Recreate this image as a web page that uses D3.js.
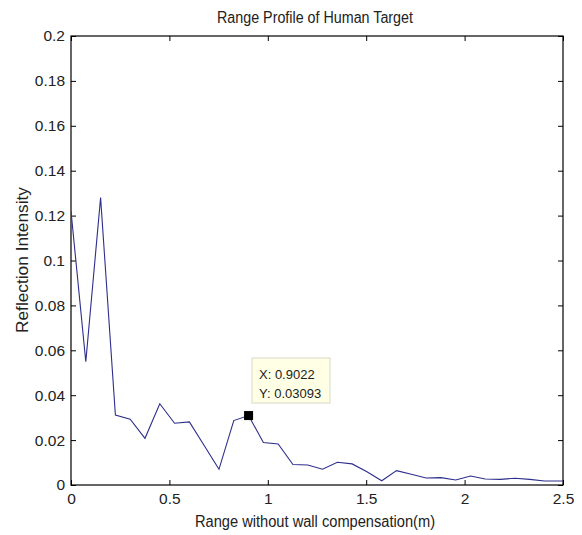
<!DOCTYPE html>
<html><head><meta charset="utf-8">
<script src="https://cdn.jsdelivr.net/npm/d3@7"></script>
<style>body{margin:0;background:#fff}svg{display:block}</style>
</head><body>
<script>
// ---- data ----
const xStep = 0.07519;
const intensity = [0.122, 0.0549, 0.128, 0.0312, 0.0293, 0.0208, 0.0362, 0.0275, 0.0281, 0.0176,
  0.0070, 0.0287, 0.03093, 0.0189, 0.0183, 0.0091, 0.0089, 0.0070, 0.0101, 0.0094,
  0.0059, 0.0019, 0.0064, 0.0048, 0.0031, 0.0033, 0.0022, 0.0040, 0.0027, 0.0025,
  0.0030, 0.0025, 0.0018, 0.0018, 0.0017];
const xTicks = [0, 0.5, 1, 1.5, 2, 2.5];
const xTickLabels = ["0", "0.5", "1", "1.5", "2", "2.5"];
const yTicks = [0, 0.02, 0.04, 0.06, 0.08, 0.1, 0.12, 0.14, 0.16, 0.18, 0.2];
const yTickLabels = ["0", "0.02", "0.04", "0.06", "0.08", "0.1", "0.12", "0.14", "0.16", "0.18", "0.2"];
const tipIndex = 12;
const tipLines = ["X: 0.9022", "Y: 0.03093"];
const titleText = "Range Profile of Human Target";
const xLabelText = "Range without wall compensation(m)";
const yLabelText = "Reflection Intensity";

const points = intensity.map((v, i) => ({x: i * xStep, y: v}));

const W = 582, H = 535;
const L = 71, R = 563, T = 36, B = 485;
const font = "'Liberation Sans',Arial,sans-serif";

const svg = d3.select("body").append("svg").attr("width", W).attr("height", H);
const x = d3.scaleLinear().domain([0, 2.5]).range([L, R]);
const y = d3.scaleLinear().domain([0, 0.2]).range([B, T]);

svg.append("defs").append("clipPath").attr("id", "clip")
  .append("rect").attr("x", L).attr("y", T).attr("width", R - L).attr("height", B - T);

// axes with inward ticks
const tf = (arr, labels) => (d => labels[arr.indexOf(d)]);
const gx = svg.append("g").attr("transform", `translate(0,${B})`)
  .call(d3.axisBottom(x).tickValues(xTicks).tickFormat(tf(xTicks, xTickLabels)).tickSize(-5).tickSizeOuter(0).tickPadding(8));
const gxT = svg.append("g").attr("transform", `translate(0,${T})`)
  .call(d3.axisTop(x).tickValues(xTicks).tickFormat("").tickSize(-5).tickSizeOuter(0));
const gy = svg.append("g").attr("transform", `translate(${L},0)`)
  .call(d3.axisLeft(y).tickValues(yTicks).tickFormat(tf(yTicks, yTickLabels)).tickSize(-5).tickSizeOuter(0).tickPadding(6));
const gyR = svg.append("g").attr("transform", `translate(${R},0)`)
  .call(d3.axisRight(y).tickValues(yTicks).tickFormat("").tickSize(-5).tickSizeOuter(0));
[gx, gxT, gy, gyR].forEach(g => {
  g.select(".domain").remove();
  g.selectAll("line").attr("stroke", "#000");
  g.selectAll("text").attr("font-family", font).attr("font-size", 15.5).attr("fill", "#222");
});
gx.selectAll("text").attr("dy", "0.71em");

// box
svg.append("rect").attr("x", L).attr("y", T).attr("width", R - L).attr("height", B - T)
  .attr("fill", "none").attr("stroke", "#000").attr("stroke-width", 1.2);

// line
svg.append("path").datum(points).attr("clip-path", "url(#clip)")
  .attr("d", d3.line().x(d => x(d.x)).y(d => y(d.y)))
  .attr("fill", "none").attr("stroke", "#2e2e8c").attr("stroke-width", 1.1);

// data tip
const tp = points[tipIndex];
svg.append("rect").attr("x", x(tp.x) - 4.5).attr("y", y(tp.y) - 4.5).attr("width", 9).attr("height", 9).attr("fill", "#000");
svg.append("rect").attr("x", 252).attr("y", 358).attr("width", 78).attr("height", 45)
  .attr("fill", "#ffffe6").attr("stroke", "#d8d8c8").attr("stroke-width", 1);
svg.selectAll(".tip").data(tipLines).enter().append("text")
  .attr("x", 259).attr("y", (d, i) => 379 + i * 18.5)
  .attr("font-family", font).attr("font-size", 13).attr("fill", "#222")
  .text(d => d);

// title and labels
svg.append("text").attr("x", 315).attr("y", 23).attr("text-anchor", "middle")
  .attr("font-family", font).attr("font-size", 16).attr("fill", "#222")
  .attr("textLength", 196).attr("lengthAdjust", "spacingAndGlyphs").text(titleText);
svg.append("text").attr("x", 315).attr("y", 527).attr("text-anchor", "middle")
  .attr("font-family", font).attr("font-size", 16).attr("fill", "#222")
  .attr("textLength", 240).attr("lengthAdjust", "spacingAndGlyphs").text(xLabelText);
svg.append("text").attr("transform", "translate(28,260) rotate(-90)").attr("text-anchor", "middle")
  .attr("font-family", font).attr("font-size", 16).attr("fill", "#222")
  .attr("textLength", 146).attr("lengthAdjust", "spacingAndGlyphs").text(yLabelText);
</script>
</body></html>
